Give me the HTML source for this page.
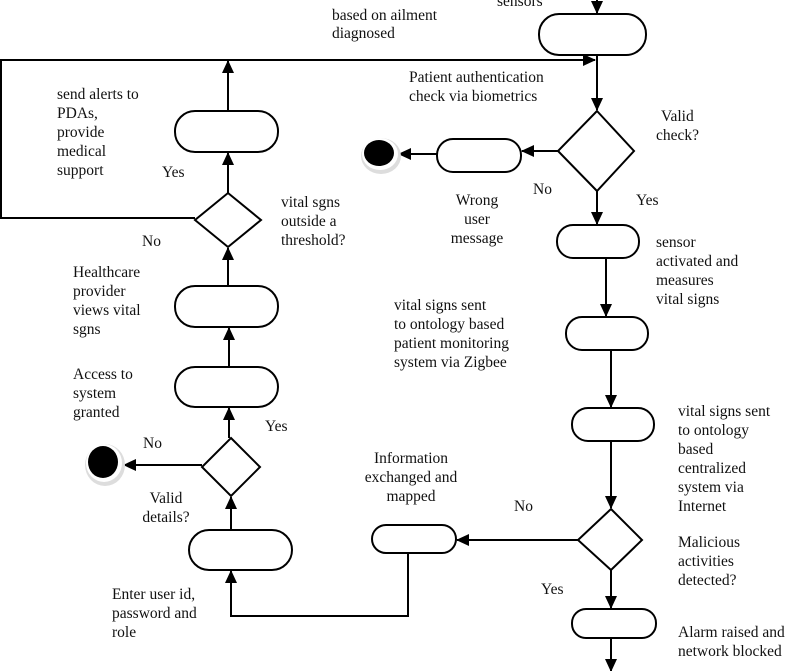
<!DOCTYPE html>
<html><head><meta charset="utf-8"><style>
html,body{margin:0;padding:0;background:#fff}
svg{display:block}
text{font-family:"Liberation Serif",serif;font-size:15.5px;fill:#111}
</style></head><body>
<svg width="792" height="671" viewBox="0 0 792 671" xmlns="http://www.w3.org/2000/svg">
<defs>
<marker id="a" markerWidth="13" markerHeight="12" refX="12" refY="6" orient="auto" markerUnits="userSpaceOnUse">
<path d="M0,0 L13,6 L0,12 z" fill="#000"/></marker>
</defs>
<g fill="#fff" stroke="#000" stroke-width="2">
<rect x="539" y="14" width="107" height="41" rx="20"/>
<rect x="437" y="139" width="84" height="33" rx="16"/>
<rect x="557" y="225" width="82" height="33" rx="16"/>
<rect x="566" y="317" width="82" height="33" rx="16"/>
<rect x="572" y="408" width="82" height="33" rx="16"/>
<rect x="572" y="609" width="84" height="29" rx="14"/>
<rect x="372" y="525" width="84" height="28" rx="14"/>
<rect x="189" y="530" width="103" height="40" rx="20"/>
<rect x="175" y="367" width="103" height="40" rx="20"/>
<rect x="175" y="286" width="103" height="41" rx="20"/>
<rect x="175" y="111" width="103" height="41" rx="20"/>
<polygon points="597,111 634,151 597,191 558,151"/>
<polygon points="228,193 261,220 228,247 195,220"/>
<polygon points="231,438 260,467 231,496 202,467"/>
<polygon points="611,509 642,540 611,570 578,540"/>
</g>
<g fill="none" stroke="#000" stroke-width="2">
<line x1="597" y1="0" x2="597" y2="13" marker-end="url(#a)"/>
<polyline points="195,218 1,218 1,60 595,60" marker-end="url(#a)"/>
<line x1="597" y1="55" x2="597" y2="110" marker-end="url(#a)"/>
<line x1="558" y1="151" x2="522" y2="151" marker-end="url(#a)"/>
<line x1="437" y1="154" x2="399" y2="154" marker-end="url(#a)"/>
<line x1="597" y1="191" x2="597" y2="224" marker-end="url(#a)"/>
<line x1="606" y1="258" x2="606" y2="316" marker-end="url(#a)"/>
<line x1="611" y1="350" x2="611" y2="407" marker-end="url(#a)"/>
<line x1="611" y1="441" x2="611" y2="508" marker-end="url(#a)"/>
<line x1="578" y1="540" x2="457" y2="540" marker-end="url(#a)"/>
<line x1="611" y1="570" x2="611" y2="608" marker-end="url(#a)"/>
<line x1="611" y1="638" x2="611" y2="671" marker-end="url(#a)"/>
<polyline points="408,553 408,616 231,616 231,571" marker-end="url(#a)"/>
<line x1="231" y1="530" x2="231" y2="497" marker-end="url(#a)"/>
<line x1="202" y1="465" x2="124" y2="465" marker-end="url(#a)"/>
<line x1="229" y1="438" x2="229" y2="408" marker-end="url(#a)"/>
<line x1="229" y1="367" x2="229" y2="328" marker-end="url(#a)"/>
<line x1="228" y1="286" x2="228" y2="248" marker-end="url(#a)"/>
<line x1="228" y1="193" x2="228" y2="153" marker-end="url(#a)"/>
<line x1="228" y1="111" x2="228" y2="61" marker-end="url(#a)"/>
</g>
<ellipse cx="381" cy="156" rx="20" ry="18" fill="#ddd"/>
<ellipse cx="380" cy="154" rx="18" ry="16" fill="#fff"/>
<ellipse cx="379" cy="153" rx="15" ry="13" fill="#000"/>
<ellipse cx="105" cy="465" rx="20" ry="21" fill="#ddd"/>
<ellipse cx="104" cy="463" rx="18" ry="19" fill="#fff"/>
<ellipse cx="103" cy="462" rx="15" ry="16" fill="#000"/>
<text x="497" y="6">sensors</text>
<text x="332" y="20">based on ailment</text>
<text x="332" y="38">diagnosed</text>
<text x="409" y="82">Patient authentication</text>
<text x="409" y="101">check via biometrics</text>
<text x="661" y="121">Valid</text>
<text x="656" y="140">check?</text>
<text x="477" y="205" text-anchor="middle">Wrong</text>
<text x="477" y="224" text-anchor="middle">user</text>
<text x="477" y="243" text-anchor="middle">message</text>
<text x="533" y="194">No</text>
<text x="636" y="205">Yes</text>
<text x="656" y="247">sensor</text>
<text x="656" y="266">activated and</text>
<text x="656" y="285">measures</text>
<text x="656" y="304">vital signs</text>
<text x="394" y="310">vital signs sent</text>
<text x="394" y="329">to ontology based</text>
<text x="394" y="348">patient monitoring</text>
<text x="394" y="367">system via Zigbee</text>
<text x="57" y="99">send alerts to</text>
<text x="57" y="118">PDAs,</text>
<text x="57" y="137">provide</text>
<text x="57" y="156">medical</text>
<text x="57" y="175">support</text>
<text x="162" y="177">Yes</text>
<text x="142" y="246">No</text>
<text x="281" y="207">vital sgns</text>
<text x="281" y="226">outside a</text>
<text x="281" y="245">threshold?</text>
<text x="73" y="277">Healthcare</text>
<text x="73" y="296">provider</text>
<text x="73" y="315">views vital</text>
<text x="73" y="334">sgns</text>
<text x="73" y="379">Access to</text>
<text x="73" y="398">system</text>
<text x="73" y="417">granted</text>
<text x="265" y="431">Yes</text>
<text x="143" y="448">No</text>
<text x="166" y="503" text-anchor="middle">Valid</text>
<text x="166" y="522" text-anchor="middle">details?</text>
<text x="411" y="463" text-anchor="middle">Information</text>
<text x="411" y="482" text-anchor="middle">exchanged and</text>
<text x="411" y="501" text-anchor="middle">mapped</text>
<text x="514" y="511">No</text>
<text x="541" y="594">Yes</text>
<text x="112" y="599">Enter user id,</text>
<text x="112" y="618">password and</text>
<text x="112" y="637">role</text>
<text x="678" y="416">vital signs sent</text>
<text x="678" y="435">to ontology</text>
<text x="678" y="454">based</text>
<text x="678" y="473">centralized</text>
<text x="678" y="492">system via</text>
<text x="678" y="511">Internet</text>
<text x="678" y="547">Malicious</text>
<text x="678" y="566">activities</text>
<text x="678" y="585">detected?</text>
<text x="678" y="637">Alarm raised and</text>
<text x="678" y="656">network blocked</text>
</svg>
</body></html>
